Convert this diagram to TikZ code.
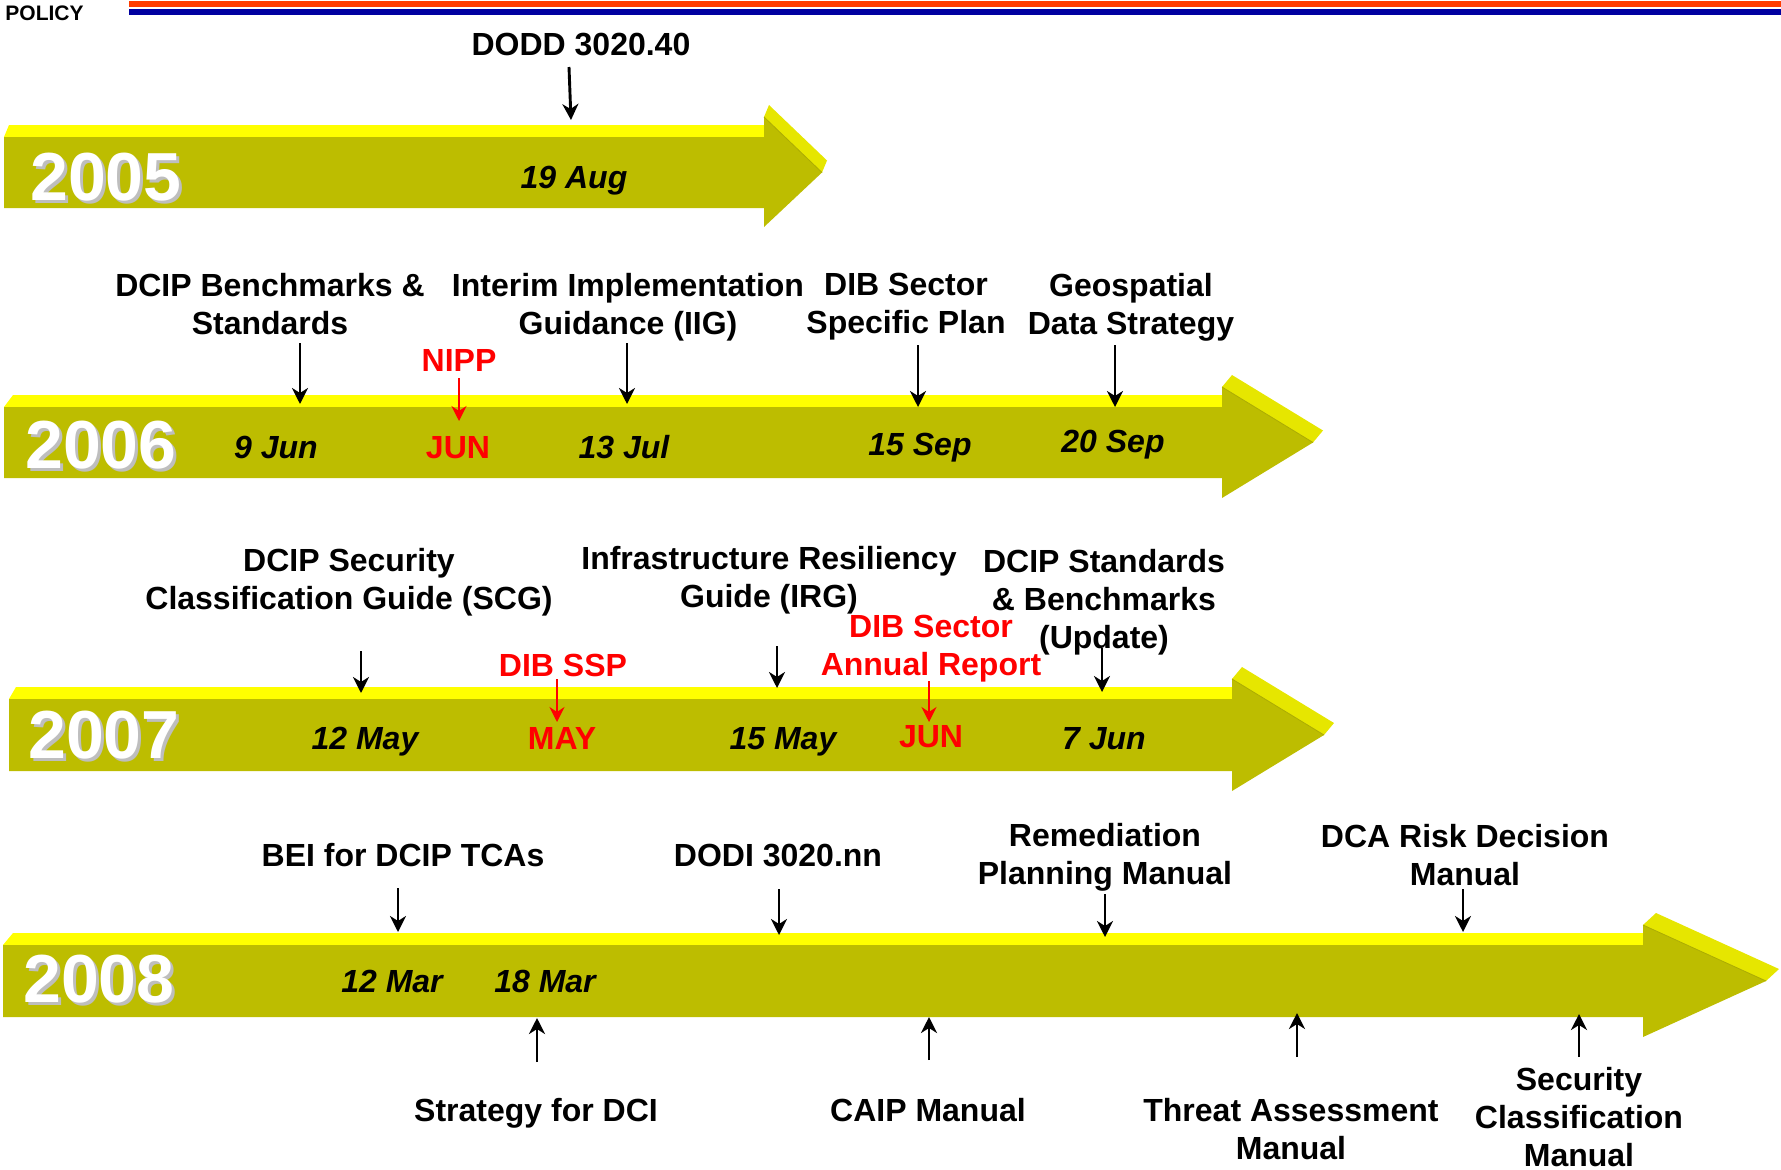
\documentclass[tikz,border=0pt]{standalone}
\usepackage{fontspec}
\setmainfont{Liberation Sans}
\usetikzlibrary{arrows.meta}
\definecolor{tlolive}{RGB}{189,189,0}
\definecolor{tlyel}{RGB}{255,255,0}
\definecolor{tlbevel}{RGB}{230,230,0}
\definecolor{tledge}{RGB}{172,172,0}
\definecolor{polorange}{RGB}{255,60,0}
\definecolor{polblue}{RGB}{0,0,160}
\definecolor{shadowgrey}{RGB}{190,190,190}
\definecolor{lblred}{RGB}{255,0,0}
% L T B notch headT headB tip dxhead dxleft
\newcommand{\tlarrow}[9]{%
  \pgfmathsetmacro\tlmid{(#2+#3)/2}%
  \fill[tlyel] (#1,#2) -- ({#1+#9},{#2-12}) -- ({#4+#8},{#2-12}) -- (#4,#2) -- cycle;
  \fill[tlbevel] (#4,#5) -- ({#4+#8},{#5-12}) -- ({#7+#8},{\tlmid-12}) -- (#7,\tlmid) -- cycle;
  \fill[tlolive] (#1,#2) -- (#4,#2) -- (#4,#5) -- (#7,\tlmid) -- (#4,#6) -- (#4,#3) -- (#1,#3) -- cycle;
  \draw[tledge, line width=0.8] (#4,#5) -- (#7,\tlmid);
}
\tikzset{
  lbl/.style={font=\fontsize{32}{38}\selectfont\bfseries, align=center, inner sep=0pt},
  redlbl/.style={lbl, text=lblred},
  datelbl/.style={font=\fontsize{32}{38}\selectfont\bfseries\itshape, inner sep=0pt, anchor=base},
  reddate/.style={font=\fontsize{32}{38}\selectfont\bfseries, inner sep=0pt, anchor=base, text=lblred},
  yearlbl/.style={font=\fontsize{68}{70}\selectfont\bfseries, inner sep=0pt, text=white},
  yearshadow/.style={font=\fontsize{68}{70}\selectfont\bfseries, inner sep=0pt, text=shadowgrey},
  blk/.style={line width=2.9pt, -{Stealth[length=16pt,width=16pt,inset=5pt]}},
  redarr/.style={line width=2.3pt, lblred, -{Stealth[length=15pt,width=15pt,inset=5pt]}}
}
\begin{document}
\begin{tikzpicture}[x=1pt,y=-1pt]
\useasboundingbox (0,0) rectangle (1781,1170);
% header
\node[font=\fontsize{21}{22}\selectfont\bfseries, inner sep=0pt] (policy) at (44.5,13.5) {POLICY};
\fill[polorange] (129,1) rectangle (1781,7);
\fill[polblue] (129,9) rectangle (1781,15);

% timeline arrows
\tlarrow{4}{137}{208}{764}{117}{227}{822}{5}{5}
\tlarrow{4}{407}{478}{1222}{387}{498}{1313}{10}{9}
\tlarrow{9}{699}{771}{1232}{679}{791}{1324}{10}{7}
\tlarrow{3}{945}{1017}{1643}{925}{1037}{1766}{13}{10}

% years
\node[yearshadow] at (109,180) {2005};
\node[yearlbl] (y2005) at (106,177) {2005};
\node[yearshadow] at (104,448) {2006};
\node[yearlbl] (y2006) at (101,445) {2006};
\node[yearshadow] at (107,738) {2007};
\node[yearlbl] (y2007) at (104,735) {2007};
\node[yearshadow] at (102,982) {2008};
\node[yearlbl] (y2008) at (99,979) {2008};

% ---- 2005
\node[lbl] (dodd) at (581,45) {DODD 3020.40};
\coordinate (dodd-s) at (569,67); \coordinate (dodd-e) at (571,120);
\draw[blk] (dodd-s) -- (dodd-e);
\node[datelbl] (d19aug) at (574,188.5) {19 Aug};

% ---- 2006
\node[lbl] (bench) at (270,304) {DCIP Benchmarks \&\\Standards};
\coordinate (bench-s) at (300,343); \coordinate (bench-e) at (300,404);
\draw[blk] (bench-s) -- (bench-e);
\node[datelbl] (d9jun) at (276,458.5) {9 Jun};

\node[redlbl] (nipp) at (459,360) {NIPP};
\coordinate (nipp-s) at (459,378); \coordinate (nipp-e) at (459,421);
\draw[redarr] (nipp-s) -- (nipp-e);
\node[reddate] (jun06) at (458,458.5) {JUN};

\node[lbl] (iig) at (628,307) {Interim Implementation\\Guidance (IIG)};
\coordinate (iig-s) at (627,343); \coordinate (iig-e) at (627,404);
\draw[blk] (iig-s) -- (iig-e);
\node[datelbl] (d13jul) at (624,458.5) {13 Jul};

\node[lbl] (ssp) at (906,307) {DIB Sector\\Specific Plan};
\coordinate (ssp-s) at (918,345); \coordinate (ssp-e) at (918,407);
\draw[blk] (ssp-s) -- (ssp-e);
\node[datelbl] (d15sep) at (920,455.5) {15 Sep};

\node[lbl] (geo) at (1131,307) {Geospatial\\Data Strategy};
\coordinate (geo-s) at (1115,345); \coordinate (geo-e) at (1115,407);
\draw[blk] (geo-s) -- (geo-e);
\node[datelbl] (d20sep) at (1113,452.5) {20 Sep};

% ---- 2007
\node[lbl] (scg) at (349,582) {DCIP Security\\Classification Guide (SCG)};
\coordinate (scg-s) at (361,651); \coordinate (scg-e) at (361,693);
\draw[blk] (scg-s) -- (scg-e);
\node[datelbl] (d12may) at (365,749.5) {12 May};

\node[redlbl] (dibssp) at (563,665) {DIB SSP};
\coordinate (dibssp-s) at (557,679); \coordinate (dibssp-e) at (557,722);
\draw[redarr] (dibssp-s) -- (dibssp-e);
\node[reddate] (may07) at (562,749.5) {MAY};

\node[lbl] (irg) at (769,580) {Infrastructure Resiliency\\Guide (IRG)};
\coordinate (irg-s) at (777,646); \coordinate (irg-e) at (777,688);
\draw[blk] (irg-s) -- (irg-e);
\node[datelbl] (d15may) at (783,749.5) {15 May};

\node[redlbl] (annual) at (931,649) {DIB Sector\\Annual Report};
\coordinate (annual-s) at (929,681); \coordinate (annual-e) at (929,722);
\draw[redarr] (annual-s) -- (annual-e);
\node[reddate] (jun07) at (931,747.5) {JUN};

\node[lbl] (upd) at (1104,602) {DCIP Standards\\\& Benchmarks\\(Update)};
\coordinate (upd-s) at (1102,648); \coordinate (upd-e) at (1102,692);
\draw[blk] (upd-s) -- (upd-e);
\node[datelbl] (d7jun) at (1104,749.5) {7 Jun};

% ---- 2008
\node[lbl] (bei) at (403,855) {BEI for DCIP TCAs};
\coordinate (bei-s) at (398,888); \coordinate (bei-e) at (398,932);
\draw[blk] (bei-s) -- (bei-e);
\node[datelbl] (d12mar) at (392,992.5) {12 Mar};
\node[datelbl] (d18mar) at (545,992.5) {18 Mar};

\node[lbl] (dci) at (536,1113) {Strategy for DCI};
\coordinate (dci-s) at (537,1062); \coordinate (dci-e) at (537,1018);
\draw[blk] (dci-s) -- (dci-e);

\node[lbl] (dodi) at (778,855) {DODI 3020.nn};
\coordinate (dodi-s) at (779,889); \coordinate (dodi-e) at (779,935);
\draw[blk] (dodi-s) -- (dodi-e);

\node[lbl] (caip) at (928,1110) {CAIP Manual};
\coordinate (caip-s) at (929,1060); \coordinate (caip-e) at (929,1017);
\draw[blk] (caip-s) -- (caip-e);

\node[lbl] (remed) at (1105,857) {Remediation\\Planning Manual};
\coordinate (remed-s) at (1105,894); \coordinate (remed-e) at (1105,937);
\draw[blk] (remed-s) -- (remed-e);

\node[lbl] (dca) at (1465,855) {DCA Risk Decision\\Manual};
\coordinate (dca-s) at (1463,889); \coordinate (dca-e) at (1463,932);
\draw[blk] (dca-s) -- (dca-e);

\node[lbl] (threat) at (1291,1129) {Threat Assessment\\Manual};
\coordinate (threat-s) at (1297,1057); \coordinate (threat-e) at (1297,1013);
\draw[blk] (threat-s) -- (threat-e);

\node[lbl] (scm) at (1579,1117) {Security\\Classification\\Manual};
\coordinate (scm-s) at (1579,1057); \coordinate (scm-e) at (1579,1014);
\draw[blk] (scm-s) -- (scm-e);
\end{tikzpicture}
\end{document}
